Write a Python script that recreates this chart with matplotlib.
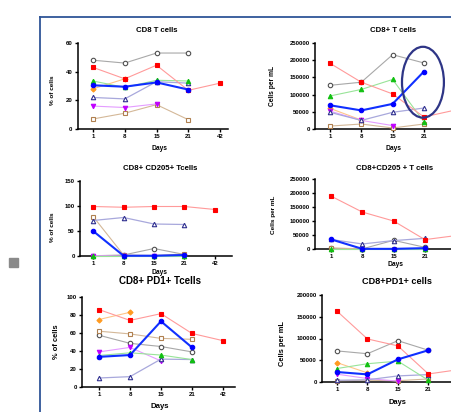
import numpy as np
import matplotlib
matplotlib.use('Agg')
import matplotlib.pyplot as plt
from matplotlib.patches import Ellipse, Rectangle
from matplotlib.lines import Line2D
from matplotlib.ticker import FuncFormatter

plt.rcParams['font.family'] = ['Liberation Sans', 'DejaVu Sans']
plt.rcParams['font.weight'] = 'bold'

nan = np.nan
days = ['1', '8', '15', '21', '42']

# values per panel, one list per donor/series (nan = not measured)
cd8_pct = {
    'grey':    [48, 46, 53, 53, nan],
    'tan':     [7, 11, 17, 6.5, nan],
    'orange':  [28, 35, nan, nan, nan],
    'magenta': [16, 15, 17.5, nan, nan],
    'navy':    [22, 21, 33, 32, nan],
    'green':   [33.5, 29, 34, 33.5, nan],
    'red':     [43, 35, 44.5, 27, 32],
    'blue':    [30.5, 29.5, 32.5, 27.5, nan],
}
cd8_abs = {
    'grey':    [127000, 136000, 216000, 192000, nan],
    'tan':     [8500, 14500, 3000, 14500, nan],
    'orange':  [60000, 26000, nan, nan, nan],
    'magenta': [52000, 25000, 10000, nan, nan],
    'navy':    [48500, 25000, 48500, 61000, nan],
    'green':   [96000, 115000, 144000, 21000, nan],
    'red':     [191000, 136000, 102000, 35000, 55000],
    'blue':    [69000, 54000, 73000, 167000, nan],
}
cd205_pct = {
    'grey':    [0.5, 2, 15, 3, nan],
    'tan':     [79, 2, 1, 4, nan],
    'magenta': [0.5, 0, 0, 0, nan],
    'navy':    [71, 77, 64, 63, nan],
    'green':   [0, 0, 0, 0, nan],
    'red':     [99, 97.5, 99, 99, 93],
    'blue':    [50, 0.5, 0.5, 2, nan],
}
cd205_abs = {
    'grey':    [2000, 500, 31000, 6000, nan],
    'tan':     [4000, 500, 500, 1000, nan],
    'navy':    [34000, 18000, 30000, 38000, nan],
    'green':   [0, 0, 0, 0, nan],
    'red':     [189000, 132000, 100000, 33500, 48000],
    'blue':    [34500, 500, 500, 3000, nan],
}
pd1_pct = {
    'grey':    [57.5, 48.5, 45, 39, nan],
    'tan':     [62, 59, 54, 53, nan],
    'orange':  [75, 83, nan, nan, nan],
    'magenta': [39, 44, 29, nan, nan],
    'navy':    [10, 11.5, 31, 30.5, nan],
    'green':   [35, 38, 35.5, 30.5, nan],
    'red':     [86, 74, 81.5, 59.5, 51.5],
    'blue':    [33.5, 35.5, 73, 44, nan],
}
pd1_abs = {
    'grey':    [71500, 65000, 95000, 73000, nan],
    'tan':     [3000, 4000, 3000, 7000, nan],
    'orange':  [44500, 21000, nan, nan, nan],
    'magenta': [18000, 8000, 2000, nan, nan],
    'navy':    [4000, 5000, 14000, 17000, nan],
    'green':   [31000, 42000, 48000, 4000, nan],
    'red':     [163000, 99000, 83000, 18500, 28500],
    'blue':    [23000, 17500, 52000, 73000, nan],
}

# (line colour, marker, marker face, marker edge, line width)
styles = {
    'grey':    ('#a8a8a8', 'o', 'white', '#505050', 0.8),
    'tan':     ('#d4b898', 's', 'white', '#b08050', 0.8),
    'orange':  ('#ffc488', 'D', '#ff9a20', '#ff9a20', 0.8),
    'magenta': ('#e49cff', 'v', '#c000ff', '#c000ff', 0.8),
    'navy':    ('#a8a8dc', '^', 'white', '#303090', 0.9),
    'green':   ('#98e498', '^', '#10c010', '#10c010', 0.8),
    'red':     ('#ff9a9a', 's', '#ff0000', '#ff0000', 0.8),
    'blue':    ('#1030ff', 'o', '#0000ff', '#0000ff', 1.5),
}

W, H = 451, 412
fig = plt.figure(figsize=(W / 100, H / 100), dpi=100)


def fx(px):
    return px / W


def fy(py):
    return 1 - py / H


def panel(l, r, top, bot, xlim, ymax, ystep, data, nticks=5):
    ax = fig.add_axes([fx(l), fy(bot), (r - l) / W, (bot - top) / H])
    x = np.arange(len(days))
    for name in ['grey', 'tan', 'orange', 'magenta', 'navy', 'green', 'red', 'blue']:
        if name not in data:
            continue
        lc, mk, mf, me, lw = styles[name]
        ms = 2.6 if mk == 'D' else 3.2
        ax.plot(x, data[name], color=lc, lw=lw, marker=mk, ms=ms,
                mfc=mf, mec=me, mew=0.8, clip_on=False, zorder=3)
    ax.set_xlim(*xlim)
    ax.set_ylim(0, ymax)
    ax.set_xticks(x[:nticks])
    ax.set_xticklabels(days[:nticks])
    ax.set_yticks(np.arange(0, ymax + 1, ystep))
    ax.yaxis.set_major_formatter(FuncFormatter(lambda v, p: f'{int(v)}'))
    for s in ['top', 'right']:
        ax.spines[s].set_visible(False)
    for s in ['left', 'bottom']:
        ax.spines[s].set_linewidth(1.1)
    ax.tick_params(length=2.5, width=1, labelsize=4.3, pad=1.2)
    for t in ax.get_xticklabels() + ax.get_yticklabels():
        t.set_fontweight('bold')
    ax.patch.set_alpha(0)
    return ax


ax1 = panel(77.7, 228, 43, 129, (-0.48, 4.25), 60, 20, cd8_pct)
ax2 = panel(315, 463, 43, 129, (-0.48, 4.25), 250000, 50000, cd8_abs, nticks=4)
ax3 = panel(80, 232, 181, 256, (-0.43, 4.56), 150, 50, cd205_pct)
ax4 = panel(315, 464, 179, 249, (-0.51, 4.25), 250000, 50000, cd205_abs, nticks=4)
ax5 = panel(82, 235, 297, 387, (-0.55, 4.39), 100, 20, pd1_pct)
ax6 = panel(322, 468, 295, 382, (-0.49, 4.3), 200000, 50000, pd1_abs, nticks=4)

# circled day-21 group in the CD8+ counts panel
ax2.add_patch(Ellipse((2.97, 136000), 1.34, 206000, fill=False,
                      ec='#2e3586', lw=1.6, clip_on=False, zorder=5))

# titles, axis labels
titles = [('CD8 T cells', 157, 30, 5.6), ('CD8+ T cells', 393, 30, 5.6),
          ('CD8+ CD205+ Tcells', 160, 168, 5.6), ('CD8+CD205 + T cells', 395, 168, 5.6),
          ('CD8+ PD1+ Tcells', 160, 281, 7.0), ('CD8+PD1+ cells', 397, 281, 6.6)]
for txt, px, py, fs in titles:
    fig.text(fx(px), fy(py), txt, ha='center', va='center', fontsize=fs, fontweight='bold')

for px, py, fs in [(160, 148, 4.8), (393, 148, 4.8), (160, 272, 4.8),
                   (395, 265, 4.8), (160, 407, 5.6), (397, 402, 5.4)]:
    fig.text(fx(px), fy(py), 'Days', ha='center', va='center', fontsize=fs, fontweight='bold')

for txt, px, py, fs in [('% of cells', 53, 90, 4.6), ('Cells per mL', 273, 86, 4.8),
                        ('% of cells', 53, 227, 4.6), ('Cells per mL', 273, 215, 4.6),
                        ('% of cells', 56, 342, 5.4), ('Cells per mL', 283, 343, 5.4)]:
    fig.text(fx(px), fy(py), txt, ha='center', va='center', rotation=90,
             fontsize=fs, fontweight='bold')

# slide frame and bullet square
fig.add_artist(Line2D([fx(40), fx(40)], [fy(17), 0], color='#2f5597', lw=1.3))
fig.add_artist(Line2D([fx(40), 1], [fy(17), fy(17)], color='#2f5597', lw=1.3))
fig.add_artist(Rectangle((fx(9), fy(267)), 9 / W, 9 / H, color='#8a8a8a',
                         transform=fig.transFigure))

fig.savefig('out.png', dpi=100)
